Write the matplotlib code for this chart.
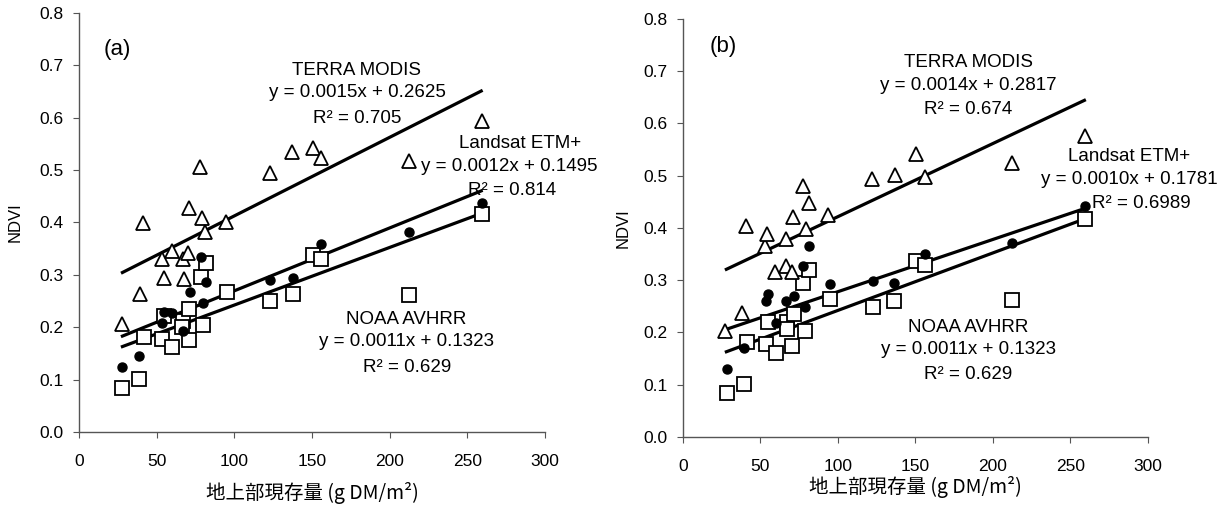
import numpy as np
import matplotlib
matplotlib.use("Agg")
from matplotlib import pyplot

pyplot.rcParams["font.family"] = ["Liberation Sans", "Noto Sans CJK JP", "DejaVu Sans"]

# ---- panel (a) ----
a_terra_x = [28.0, 39.0, 41.5, 53.6, 55.0, 60.0, 66.9, 67.4, 70.4, 71.1, 77.9, 79.3,
             81.4, 94.7, 123.3, 137.3, 150.4, 155.9, 212.2, 259.2]
a_terra_y = [0.207, 0.264, 0.399, 0.331, 0.294, 0.346, 0.331, 0.293, 0.341, 0.427, 0.505,
             0.408, 0.381, 0.401, 0.494, 0.535, 0.543, 0.524, 0.518, 0.594]
a_landsat_x = [27.6, 38.8, 53.4, 55.0, 59.9, 67.2, 71.6, 79.7, 81.5, 78.4, 123.3, 137.9,
               155.9, 212.7, 259.2]
a_landsat_y = [0.124, 0.146, 0.209, 0.229, 0.227, 0.192, 0.267, 0.246, 0.286, 0.335, 0.291,
               0.294, 0.358, 0.381, 0.437]
a_noaa_x = [27.6, 38.8, 41.6, 53.4, 55.0, 59.9, 67.2, 66.5, 71.1, 70.7, 79.7, 78.4, 81.9,
            95.3, 123.3, 137.9, 150.4, 155.9, 212.7, 259.2]
a_noaa_y = [0.084, 0.102, 0.182, 0.178, 0.222, 0.163, 0.211, 0.200, 0.234, 0.176, 0.204,
            0.295, 0.323, 0.267, 0.251, 0.263, 0.337, 0.331, 0.262, 0.417]

# ---- panel (b) ----
b_terra_x = [27.0, 38.3, 40.9, 53.2, 54.5, 59.1, 66.6, 66.6, 70.2, 70.7, 77.6, 79.4, 81.0,
             93.8, 122.1, 136.8, 150.1, 156.0, 212.6, 259.4]
b_terra_y = [0.203, 0.237, 0.403, 0.366, 0.388, 0.315, 0.379, 0.328, 0.315, 0.421, 0.481,
             0.398, 0.447, 0.425, 0.494, 0.502, 0.541, 0.498, 0.525, 0.576]
b_landsat_x = [28.3, 39.4, 53.4, 54.9, 59.8, 66.6, 71.5, 78.9, 77.4, 81.0, 94.7, 122.6,
               136.4, 156.0, 212.6, 259.4]
b_landsat_y = [0.130, 0.171, 0.261, 0.274, 0.219, 0.261, 0.270, 0.248, 0.327, 0.365, 0.293,
               0.298, 0.295, 0.351, 0.372, 0.442]
b_noaa_x = [28.3, 39.6, 41.5, 53.4, 54.9, 59.8, 67.2, 67.2, 70.4, 71.5, 78.9, 77.7, 81.5,
            94.7, 122.6, 136.4, 150.1, 156.0, 212.6, 259.4]
b_noaa_y = [0.085, 0.101, 0.181, 0.177, 0.221, 0.161, 0.221, 0.207, 0.175, 0.236, 0.203,
            0.295, 0.320, 0.264, 0.249, 0.261, 0.337, 0.330, 0.263, 0.418]

# regression lines: slope, intercept, R2
a_fits = {"terra": (0.0015, 0.2625, "0.705"), "landsat": (0.0012, 0.1495, "0.814"),
          "noaa": (0.0011, 0.1323, "0.629")}
b_fits = {"terra": (0.0014, 0.2817, "0.674"), "landsat": (0.0010, 0.1781, "0.6989"),
          "noaa": (0.0011, 0.1323, "0.629")}
fit_range = (28, 259)

xticks = [0, 50, 100, 150, 200, 250, 300]
yticks = [0.0, 0.1, 0.2, 0.3, 0.4, 0.5, 0.6, 0.7, 0.8]


def style_axes(ax, ylab_x, xlab_y):
    ax.set_xlim(0, 300)
    ax.set_ylim(0, 0.8)
    ax.set_xticks(xticks)
    ax.set_yticks(yticks)
    ax.set_yticklabels(["%.1f" % t for t in yticks])
    for side in ("top", "right"):
        ax.spines[side].set_visible(False)
    for side in ("left", "bottom"):
        ax.spines[side].set_color("#555555")
        ax.spines[side].set_linewidth(1.0)
    ax.tick_params(axis="both", direction="out", colors="#555555", labelcolor="black",
                   labelsize=12.5, length=4)
    ax.tick_params(axis="x", pad=12)
    ax.tick_params(axis="y", pad=7)
    ax.set_ylabel("NDVI", fontsize=12)
    ax.yaxis.set_label_coords(ylab_x, 0.5)
    ax.set_xlabel("地上部現存量 (g DM/m²)", fontsize=14,
                  family=["Noto Sans CJK JP", "DejaVu Sans"])
    ax.xaxis.set_label_coords(0.5, xlab_y)


def draw_panel(ax, tx, ty, lx, ly, nx, ny, fits):
    xs = np.array(fit_range)
    for key in ("terra", "landsat", "noaa"):
        m, b, _ = fits[key]
        ax.plot(xs, m * xs + b, color="black", linewidth=2.3, zorder=2)
    ax.plot(nx, ny, linestyle="none", marker="s", markersize=9.5, markerfacecolor="white",
            markeredgecolor="black", markeredgewidth=1.3, zorder=3)
    ax.plot(lx, ly, linestyle="none", marker="o", markersize=6.5, color="black", zorder=3)
    ax.plot(tx, ty, linestyle="none", marker="^", markersize=10.5, markerfacecolor="white",
            markeredgecolor="black", markeredgewidth=1.3, zorder=4)


def eq_text(m, b):
    return "y = %.4fx + %.4f" % (m, b)


fig = pyplot.figure(figsize=(12.22, 5.09), dpi=100)
ax_a = fig.add_axes([0.0646, 0.1513, 0.3813, 0.8232])
ax_b = fig.add_axes([0.5589, 0.1415, 0.3805, 0.8212])

fs = 13.5

# panel (a)
draw_panel(ax_a, a_terra_x, a_terra_y, a_landsat_x, a_landsat_y, a_noaa_x, a_noaa_y, a_fits)
style_axes(ax_a, -0.12, -0.119)
ax_a.text(16, 0.731, "(a)", fontsize=16, ha="left", va="center")
m, b, r = a_fits["terra"]
ax_a.text(179, 0.690, "TERRA MODIS", fontsize=fs, ha="center", va="center")
ax_a.text(179, 0.648, eq_text(m, b), fontsize=fs, ha="center", va="center")
ax_a.text(179, 0.598, "R² = " + r, fontsize=fs, ha="center", va="center")
m, b, r = a_fits["landsat"]
ax_a.text(284, 0.551, "Landsat ETM+", fontsize=fs, ha="center", va="center", clip_on=False)
ax_a.text(277, 0.507, eq_text(m, b), fontsize=fs, ha="center", va="center", clip_on=False)
ax_a.text(279, 0.462, "R² = " + r, fontsize=fs, ha="center", va="center", clip_on=False)
m, b, r = a_fits["noaa"]
ax_a.text(211, 0.215, "NOAA AVHRR", fontsize=fs, ha="center", va="center")
ax_a.text(211, 0.172, eq_text(m, b), fontsize=fs, ha="center", va="center")
ax_a.text(211, 0.124, "R² = " + r, fontsize=fs, ha="center", va="center")

# panel (b)
draw_panel(ax_b, b_terra_x, b_terra_y, b_landsat_x, b_landsat_y, b_noaa_x, b_noaa_y, b_fits)
style_axes(ax_b, -0.112, -0.093)
ax_b.text(17, 0.747, "(b)", fontsize=16, ha="left", va="center")
m, b, r = b_fits["terra"]
ax_b.text(184, 0.717, "TERRA MODIS", fontsize=fs, ha="center", va="center")
ax_b.text(184, 0.672, eq_text(m, b), fontsize=fs, ha="center", va="center")
ax_b.text(184, 0.626, "R² = " + r, fontsize=fs, ha="center", va="center")
m, b, r = b_fits["landsat"]
ax_b.text(288, 0.537, "Landsat ETM+", fontsize=fs, ha="center", va="center", clip_on=False)
ax_b.text(288, 0.492, eq_text(m, b), fontsize=fs, ha="center", va="center", clip_on=False)
ax_b.text(296, 0.446, "R² = " + r, fontsize=fs, ha="center", va="center", clip_on=False)
m, b, r = b_fits["noaa"]
ax_b.text(184, 0.210, "NOAA AVHRR", fontsize=fs, ha="center", va="center")
ax_b.text(184, 0.167, eq_text(m, b), fontsize=fs, ha="center", va="center")
ax_b.text(184, 0.119, "R² = " + r, fontsize=fs, ha="center", va="center")

fig.savefig("out.png", dpi=100)
